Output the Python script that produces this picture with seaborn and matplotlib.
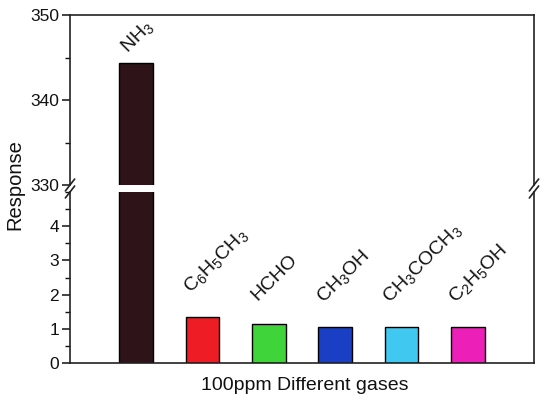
import matplotlib
matplotlib.use("Agg")
import matplotlib.pyplot as plt
import seaborn as sns
import pandas as pd
from matplotlib.ticker import MultipleLocator

gases = ["NH3", "C6H5CH3", "HCHO", "CH3OH", "CH3COCH3", "C2H5OH"]
labels = [r"NH$_3$", r"C$_6$H$_5$CH$_3$", "HCHO", r"CH$_3$OH",
          r"CH$_3$COCH$_3$", r"C$_2$H$_5$OH"]
response = [344.3, 1.34, 1.13, 1.04, 1.04, 1.06]
colors = ["#2e1418", "#ee1c24", "#3ed43a", "#1a3fc4", "#40c8f0", "#ec1fb8"]

sns.set_style("ticks")
plt.rcParams["font.family"] = ["Liberation Sans", "DejaVu Sans"]
plt.rcParams["mathtext.fontset"] = "custom"
plt.rcParams["mathtext.rm"] = "Liberation Sans"
plt.rcParams["mathtext.it"] = "Liberation Sans:italic"
plt.rcParams["mathtext.bf"] = "Liberation Sans:bold"
plt.rcParams["text.color"] = "#111111"
plt.rcParams["ytick.color"] = "#111111"
plt.rcParams["ytick.labelcolor"] = "#111111"

df = pd.DataFrame({"gas": gases, "response": response})

fig = plt.figure(figsize=(5.5, 4.07), dpi=100)
L, R = 70 / 550, 534 / 550
ax_top = fig.add_axes([L, 1 - 185 / 407, R - L, (185 - 15) / 407])
ax_bot = fig.add_axes([L, 1 - 363 / 407, R - L, (363 - 192) / 407])

for ax in (ax_top, ax_bot):
    sns.barplot(data=df, x="gas", y="response", hue="gas", palette=colors,
                dodge=False, legend=False, width=0.51, edgecolor="black",
                linewidth=1.0, saturation=1, ax=ax)
    ax.set_xlim(-1, 6)
    ax.set_xlabel("")
    ax.set_ylabel("")
    ax.set_xticks([])
    for s in ax.spines.values():
        s.set_linewidth(1.2)
        s.set_color("#222222")
    ax.tick_params(axis="y", which="major", length=6, width=1.1,
                   labelsize=12.5, direction="out", pad=2)
    ax.tick_params(axis="y", which="minor", length=3.5, width=1.0,
                   direction="out")

ax_top.set_ylim(330, 350)
ax_top.yaxis.set_major_locator(MultipleLocator(10))
ax_top.yaxis.set_minor_locator(MultipleLocator(5))
ax_top.spines["bottom"].set_visible(False)

ax_bot.set_ylim(0, 5)
ax_bot.set_yticks([0, 1, 2, 3, 4])
ax_bot.yaxis.set_minor_locator(MultipleLocator(0.5))
ax_bot.spines["top"].set_visible(False)

# bar labels
for i, (lab, val) in enumerate(zip(labels, response)):
    if val > 5:
        ax, off = ax_top, (-6.5, 7)
    else:
        ax, off = ax_bot, (-8.5, 17)
    ax.annotate(lab, xy=(i, val), xytext=off,
                textcoords="offset points", rotation=45,
                rotation_mode="anchor", ha="left", va="baseline",
                fontsize=14, annotation_clip=False)

# break marks
d = 0.01
for ax, y in ((ax_top, 0.0), (ax_bot, 1.0)):
    for x in (0.0, 1.0):
        ax.plot([x - d, x + d], [y - 0.035, y + 0.035],
                transform=ax.transAxes, color="#222222", lw=1.2,
                clip_on=False)

fig.text(15 / 550, 1 - 185 / 407, "Response", rotation=90,
         ha="center", va="center", fontsize=14.5)
fig.text(305 / 550, 1 - 385 / 407, "100ppm Different gases",
         ha="center", va="center", fontsize=14)

fig.savefig("out.png", dpi=100)
